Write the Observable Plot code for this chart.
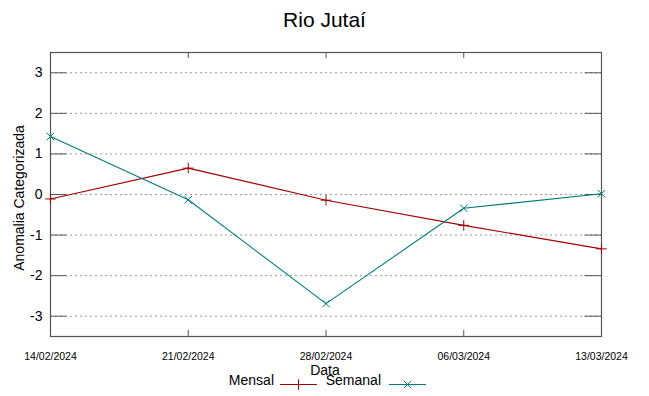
<!DOCTYPE html>
<html>
<head>
<meta charset="utf-8">
<script src="https://cdn.jsdelivr.net/npm/d3@7"></script>
<script src="https://cdn.jsdelivr.net/npm/@observablehq/plot@0.6"></script>
<style>
  body { margin: 0; background: #fff; font-family: "Liberation Sans", Arial, sans-serif; }
  #chart { position: relative; width: 649px; height: 396px; overflow: hidden; }
  #chart svg.plot { position: absolute; left: 0; top: 0; }
  .ov { position: absolute; white-space: nowrap; color: #000; line-height: 1; }
</style>
</head>
<body>
<div id="chart"></div>
<script>
const title = "Rio Jutaí";
const xLabel = "Data";
const yLabel = "Anomalia Categorizada";
const dates = ["2024-02-14", "2024-02-21", "2024-02-28", "2024-03-06", "2024-03-13"];
const mensal = [-0.11, 0.65, -0.14, -0.76, -1.34];
const semanal = [1.43, -0.13, -2.69, -0.34, 0.02];
const yTicks = [-3, -2, -1, 0, 1, 2, 3];
const seriesNames = ["Mensal", "Semanal"];
const seriesColors = ["#a00000", "#007b7b"];
const seriesSymbols = ["plus", "times"];

const parse = d3.utcParse("%Y-%m-%d");
const xDates = dates.map(parse);
const rows = [];
[mensal, semanal].forEach((vals, s) => {
  vals.forEach((v, i) => rows.push({date: xDates[i], value: v, series: seriesNames[s]}));
});
const x0 = xDates[0], x4 = xDates[xDates.length - 1];

const plot = Plot.plot({
  width: 649,
  height: 396,
  marginLeft: 50,
  marginRight: 48,
  marginTop: 52,
  marginBottom: 60,
  style: {fontFamily: "Liberation Sans, Arial, sans-serif", background: "#fff", overflow: "visible"},
  x: {type: "utc", domain: [x0, x4]},
  y: {domain: [-3.5, 3.5]},
  color: {domain: seriesNames, range: seriesColors},
  symbol: {domain: seriesNames, range: seriesSymbols},
  marks: [
    Plot.gridY(yTicks, {stroke: "#999", strokeOpacity: 1, strokeDasharray: "2,3", strokeWidth: 1}),
    Plot.axisY(yTicks, {tickSize: 0, tickPadding: 8, fontSize: 14, label: null, tickFormat: d => String(d)}),
    Plot.axisX(xDates, {tickSize: 0, tickPadding: 16, fontSize: 10.5, label: null, tickFormat: d3.utcFormat("%d/%m/%Y")}),
    Plot.ruleY(yTicks, {x1: x0, x2: d3.utcHour.offset(x0, 20), stroke: "#555"}),
    Plot.ruleY(yTicks, {x1: d3.utcHour.offset(x4, -20), x2: x4, stroke: "#555"}),
    Plot.ruleX(xDates, {y1: -3.5, y2: -3.35, stroke: "#555"}),
    Plot.ruleX(xDates, {y1: 3.35, y2: 3.5, stroke: "#555"}),
    Plot.frame({stroke: "#555", strokeWidth: 1.2}),
    Plot.line(rows, {x: "date", y: "value", z: "series", stroke: "series", strokeWidth: 1.1}),
    Plot.dot(rows, {x: "date", y: "value", symbol: "series", stroke: "series", r: 3.5, strokeWidth: 1})
  ]
});
plot.classList.add("plot");
const chart = document.getElementById("chart");
chart.appendChild(plot);

function ov(text, css) {
  const d = document.createElement("div");
  d.className = "ov";
  d.textContent = text;
  Object.assign(d.style, css);
  chart.appendChild(d);
  return d;
}
ov(title, {left: "0", width: "649px", textAlign: "center", top: "9px", fontSize: "21px"});
ov(xLabel, {left: "300px", width: "50px", textAlign: "center", top: "363px", fontSize: "14px"});
ov(yLabel, {left: "19px", top: "198px", fontSize: "14px", transform: "translate(-50%,-50%) rotate(-90deg)"});

// legend
const legend = d3.select(chart).append("svg")
  .attr("width", 649).attr("height", 30)
  .style("position", "absolute").style("left", "0").style("top", "370px");
const legendX = [{textEnd: 274, x1: 280, x2: 317}, {textEnd: 381, x1: 389, x2: 426}];
seriesNames.forEach((name, i) => {
  const g = legend.append("g");
  const L = legendX[i];
  g.append("text").attr("x", L.textEnd).attr("y", 14.5).attr("text-anchor", "end")
    .attr("font-size", 14).attr("font-family", "Liberation Sans, Arial, sans-serif").text(name);
  g.append("line").attr("x1", L.x1).attr("x2", L.x2).attr("y1", 14.5).attr("y2", 14.5)
    .attr("stroke", seriesColors[i]).attr("stroke-width", 1.1);
  const sym = seriesSymbols[i] === "plus" ? d3.symbolPlus : d3.symbolTimes;
  g.append("path").attr("d", d3.symbol(sym, 38)())
    .attr("transform", `translate(${(L.x1 + L.x2) / 2},14.5)`)
    .attr("fill", "none").attr("stroke", seriesColors[i]).attr("stroke-width", 1);
});
</script>
</body>
</html>
